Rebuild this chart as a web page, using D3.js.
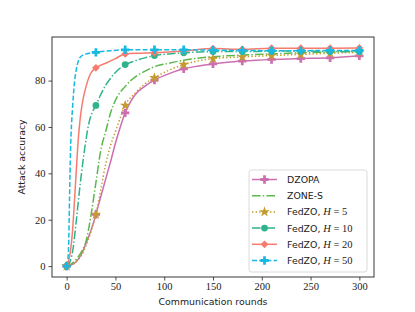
<!DOCTYPE html>
<html>
<head>
<meta charset="utf-8">
<script src="https://cdn.jsdelivr.net/npm/d3@7"></script>
<style>
  body { margin: 0; background: #fff; }
  svg { display: block; }
</style>
</head>
<body>
<div id="chart"></div>
<script>
// values (communication rounds -> attack accuracy)
const dzopaRounds = [0, 5, 10, 15, 20, 25, 30, 35, 40, 45, 50, 55, 60, 65, 70, 80, 90, 105, 120, 135, 150, 165, 180, 210, 240, 270, 300];
const dzopaAcc = [0, 0.5, 2, 5, 10, 15.5, 22.3, 30, 37.5, 45, 53, 60, 66.1, 70.5, 73.8, 77.5, 80.2, 83, 85.1, 86.3, 87.2, 87.9, 88.4, 89.1, 89.5, 89.8, 90.7];

const zoneRounds = [0, 5, 10, 15, 20, 25, 30, 35, 40, 45, 50, 60, 70, 80, 90, 105, 120, 150, 180, 210, 240, 270, 300];
const zoneAcc = [0, 1, 3, 6, 11, 22, 36, 50, 58, 66, 71.5, 77.5, 81.5, 84, 86, 87.5, 88.8, 90.3, 91, 91.5, 92, 92.3, 92.6];

const h5Rounds = [0, 5, 10, 15, 20, 25, 30, 35, 40, 45, 50, 55, 60, 70, 80, 90, 105, 120, 135, 150, 180, 210, 240, 270, 300];
const h5Acc = [0, 0.5, 2, 4.5, 9, 15, 22.3, 33, 44, 52, 58, 64, 69.3, 74.5, 78.5, 81.2, 84.5, 86.9, 88.5, 89.5, 90.2, 90.8, 91.3, 91.8, 92.2];

const h10Rounds = [0, 3, 6, 10, 13, 17, 20, 23, 26, 30, 35, 40, 45, 50, 60, 70, 80, 90, 105, 120, 150, 180, 210, 240, 270, 300];
const h10Acc = [0, 1.5, 6, 20, 32, 46, 55, 62, 66, 69.3, 74, 78, 81, 83.5, 86.9, 88.5, 89.8, 90.8, 91.5, 92, 92.5, 92.5, 92.7, 92.8, 92.5, 92.5];

const h20Rounds = [0, 3, 6, 8, 10, 12, 14, 16, 20, 24, 30, 40, 50, 60, 75, 90, 120, 150, 180, 210, 240, 270, 300];
const h20Acc = [0, 4, 15, 28, 42, 55, 64, 70, 77.6, 82.6, 85.5, 87.5, 89.5, 91.5, 91.8, 92, 92.8, 93.8, 93.5, 94, 94, 94, 94.1];

const h50Rounds = [0, 1, 2, 3, 4, 5, 6, 8, 10, 12, 15, 20, 30, 45, 60, 90, 120, 150, 180, 210, 240, 270, 300];
const h50Acc = [0, 2, 8, 30, 50, 61, 68, 79, 85, 88.5, 90.5, 91.5, 92.2, 92.9, 93.3, 93.3, 93.3, 93.1, 93, 92.9, 92.9, 93, 93];

const xTicks = [0, 50, 100, 150, 200, 250, 300];
const yTicks = [0, 20, 40, 60, 80];
const markEvery = 30;

const series = [
  { name: "DZOPA", h: null, rounds: dzopaRounds, acc: dzopaAcc, color: "#cc6fb0", dash: null, marker: "plus" },
  { name: "ZONE-S", h: null, rounds: zoneRounds, acc: zoneAcc, color: "#5cb84c", dash: "8.6,2.2,1.4,2.2", marker: null },
  { name: "FedZO, ", h: "5", rounds: h5Rounds, acc: h5Acc, color: "#c49b2e", dash: "1.4,2.2", marker: "star" },
  { name: "FedZO, ", h: "10", rounds: h10Rounds, acc: h10Acc, color: "#2eb38c", dash: "8.6,2.2,1.4,2.2", marker: "circle" },
  { name: "FedZO, ", h: "20", rounds: h20Rounds, acc: h20Acc, color: "#f77b6e", dash: null, marker: "diamond" },
  { name: "FedZO, ", h: "50", rounds: h50Rounds, acc: h50Acc, color: "#17b9e2", dash: "5,2.2", marker: "plus" },
];

const width = 415, height = 312;
const margin = { left: 52, right: 41, top: 37, bottom: 35 };

const svg = d3.select("#chart").append("svg")
  .attr("width", width)
  .attr("height", height);

const x = d3.scaleLinear().domain([-15, 315]).range([margin.left, width - margin.right]);
const y = d3.scaleLinear().domain([-4.7, 98.8]).range([height - margin.bottom, margin.top]);

const serif = "'Liberation Serif', 'DejaVu Serif', serif";
const sans = "'DejaVu Sans', sans-serif";

// markers
function markerPath(type) {
  if (type === "plus") return d3.symbol(d3.symbolCross, 38)();
  if (type === "star") return d3.symbol(d3.symbolStar, 36)();
  if (type === "circle") return d3.symbol(d3.symbolCircle, 36)();
  if (type === "diamond") return d3.symbol(d3.symbolSquare, 30)();
  return null;
}

const line = d3.line()
  .x(d => x(d[0]))
  .y(d => y(d[1]))
  .curve(d3.curveMonotoneX);

const plot = svg.append("g");

series.forEach(s => {
  const pts = s.rounds.map((r, i) => [r, s.acc[i]]);
  plot.append("path")
    .datum(pts)
    .attr("d", line)
    .attr("fill", "none")
    .attr("stroke", s.color)
    .attr("stroke-width", 1.5)
    .attr("stroke-dasharray", s.dash);

  if (s.marker) {
    plot.selectAll(null)
      .data(pts.filter(p => p[0] % markEvery === 0))
      .join("path")
      .attr("d", markerPath(s.marker))
      .attr("transform", p => `translate(${x(p[0])},${y(p[1])})` + (s.marker === "diamond" ? " rotate(45)" : ""))
      .attr("fill", s.color);
  }
});

// axes
const xAxis = svg.append("g")
  .attr("transform", `translate(0,${height - margin.bottom})`)
  .call(d3.axisBottom(x).tickValues(xTicks).tickSize(3.5).tickPadding(2.5));
const yAxis = svg.append("g")
  .attr("transform", `translate(${margin.left},0)`)
  .call(d3.axisLeft(y).tickValues(yTicks).tickSize(3.5).tickPadding(3));

[xAxis, yAxis].forEach(a => {
  a.select(".domain").remove();
  a.selectAll(".tick line").attr("stroke", "#222").attr("stroke-width", 0.8);
  a.selectAll(".tick text").attr("font-family", serif).attr("font-size", 10.5).attr("fill", "#222");
});

// frame
svg.append("rect")
  .attr("x", margin.left)
  .attr("y", margin.top)
  .attr("width", width - margin.left - margin.right)
  .attr("height", height - margin.top - margin.bottom)
  .attr("fill", "none")
  .attr("stroke", "#222")
  .attr("stroke-width", 0.9);

svg.append("text")
  .attr("x", (margin.left + width - margin.right) / 2)
  .attr("y", 305)
  .attr("text-anchor", "middle")
  .attr("font-family", sans)
  .attr("font-size", 9.4)
  .attr("fill", "#222")
  .text("Communication rounds");

svg.append("text")
  .attr("transform", `translate(25,${(margin.top + height - margin.bottom) / 2}) rotate(-90)`)
  .attr("text-anchor", "middle")
  .attr("font-family", sans)
  .attr("font-size", 9.4)
  .attr("fill", "#222")
  .text("Attack accuracy");

// legend
const legend = svg.append("g").attr("transform", "translate(249,170)");
legend.append("rect")
  .attr("width", 118)
  .attr("height", 102)
  .attr("rx", 2.5)
  .attr("fill", "#fff")
  .attr("fill-opacity", 0.85)
  .attr("stroke", "#d0d0d0")
  .attr("stroke-width", 0.8);

series.forEach((s, i) => {
  const g = legend.append("g").attr("transform", `translate(0,${9.5 + i * 16.2})`);
  g.append("line")
    .attr("x1", 3).attr("x2", 28)
    .attr("stroke", s.color)
    .attr("stroke-width", 1.5)
    .attr("stroke-dasharray", s.dash);
  if (s.marker) {
    g.append("path")
      .attr("d", markerPath(s.marker))
      .attr("transform", "translate(15.5,0)" + (s.marker === "diamond" ? " rotate(45)" : ""))
      .attr("fill", s.color);
  }
  const t = g.append("text")
    .attr("x", 38)
    .attr("y", 3.4)
    .attr("font-family", sans)
    .attr("font-size", 9.4)
    .attr("fill", "#222");
  t.append("tspan").text(s.name);
  if (s.h) {
    t.append("tspan").attr("font-family", serif).attr("font-style", "italic").attr("font-size", 10.5).text("H");
    t.append("tspan").attr("font-family", serif).attr("font-size", 10.5).text(" = " + s.h);
  }
});
</script>
</body>
</html>
